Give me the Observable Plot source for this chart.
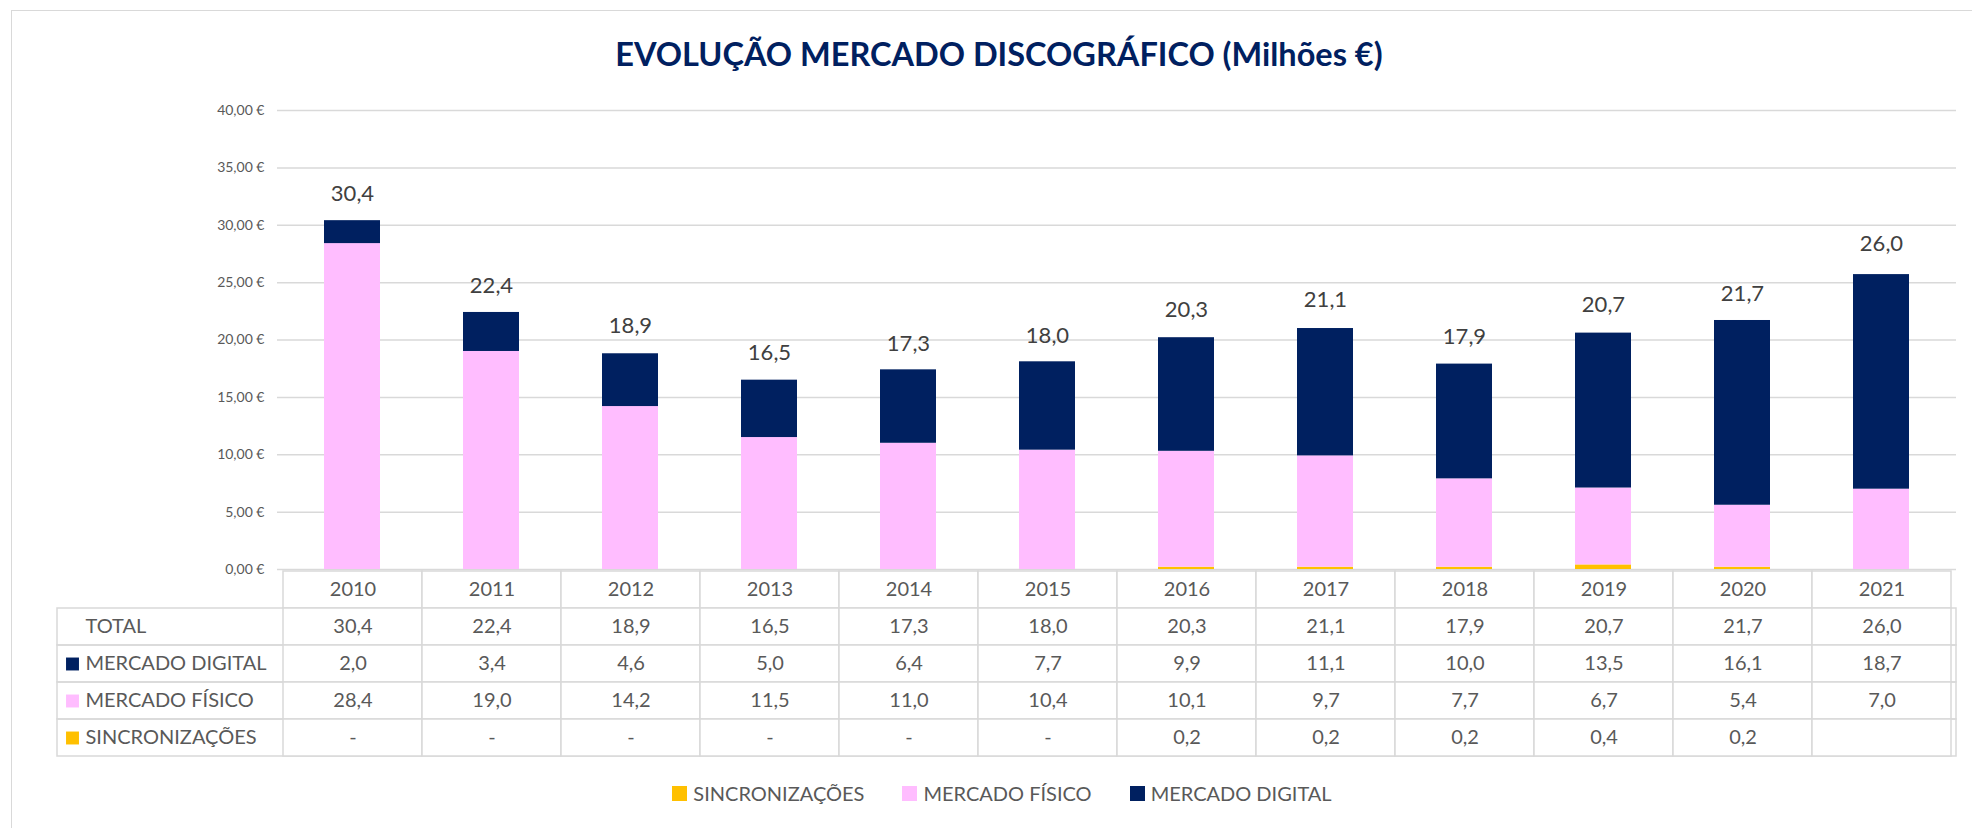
<!DOCTYPE html>
<html>
<head>
<meta charset="utf-8">
<script src="https://cdn.jsdelivr.net/npm/d3@7"></script>
<script src="https://cdn.jsdelivr.net/npm/@observablehq/plot@0.6"></script>
<style>
  html, body { margin: 0; padding: 0; background: #fff; }
  #root { position: relative; width: 1972px; height: 828px; overflow: hidden; background: #fff; font-family: Lato, "Open Sans", sans-serif; }
  #frame { position: absolute; left: 11px; top: 10px; width: 1990px; height: 840px; border: 1.5px solid #d9d9d9; box-sizing: border-box; }
  #title { position: absolute; left: 0; top: 36px; width: 1998px; text-align: center; font-size: 32.5px; line-height: 36px; font-weight: 700; color: #002060; white-space: nowrap; }
  #chart, #table { position: absolute; left: 0; }
  #chart { top: 90px; }
  #table { top: 559px; }
  #legend { position: absolute; left: 0; top: 780px; width: 2004px; display: flex; justify-content: center; gap: 38px; font-size: 20px; color: #595959; line-height: 26px; }
  .item { display: flex; align-items: center; gap: 6px; }
  .sw { width: 15px; height: 15px; display: inline-block; }
  svg text { font-family: Lato, "Open Sans", sans-serif; }
</style>
</head>
<body>
<div id="root">
  <div id="frame"></div>
  <div id="title">EVOLUÇÃO MERCADO DISCOGRÁFICO (Milhões €)</div>
  <div id="chart"></div>
  <div id="table"></div>
  <div id="legend"></div>
</div>
<script>
// ---- Data ----
const years = ["2010","2011","2012","2013","2014","2015","2016","2017","2018","2019","2020","2021"];
const totals = [30.4, 22.4, 18.9, 16.5, 17.3, 18.0, 20.3, 21.1, 17.9, 20.7, 21.7, 26.0];
const digital = [2.0, 3.4, 4.6, 5.0, 6.4, 7.7, 9.9, 11.1, 10.0, 13.5, 16.1, 18.7];
const fisico = [28.4, 19.0, 14.2, 11.5, 11.0, 10.4, 10.1, 9.7, 7.7, 6.7, 5.4, 7.0];
const sincro = [0, 0, 0, 0, 0, 0, 0.2, 0.2, 0.2, 0.4, 0.2, null];
const seriesNames = ["SINCRONIZAÇÕES", "MERCADO FÍSICO", "MERCADO DIGITAL"];
const seriesColors = ["#FFC000", "#FFBDFF", "#002060"];
const tableRows = ["TOTAL", "MERCADO DIGITAL", "MERCADO FÍSICO", "SINCRONIZAÇÕES"];
const yTicks = [0, 5, 10, 15, 20, 25, 30, 35, 40];

const seriesValues = {"SINCRONIZAÇÕES": sincro, "MERCADO FÍSICO": fisico, "MERCADO DIGITAL": digital};
const colorOf = Object.fromEntries(seriesNames.map((s, i) => [s, seriesColors[i]]));

// long data for stacked bars (bottom to top: sincro, físico, digital)
const stacked = [];
years.forEach((yr, i) => {
  seriesNames.forEach(s => {
    const v = seriesValues[s][i];
    if (v) stacked.push({year: yr, series: s, value: v});
  });
});
const totalData = years.map((yr, i) => ({year: yr, total: totals[i]}));

const fmt1 = v => v.toFixed(1).replace(".", ",");
const fmtAxis = v => v.toFixed(2).replace(".", ",") + " €";

const font = "Lato, 'Open Sans', sans-serif";

// ---- Chart ----
const chart = Plot.plot({
  width: 1972,
  height: 485,
  marginTop: 20,
  marginBottom: 6,
  marginLeft: 277,
  marginRight: 16,
  style: {fontFamily: font, background: "transparent", overflow: "visible"},
  x: {type: "band", domain: years, paddingInner: 0.6, paddingOuter: 0.3, axis: null},
  y: {domain: [0, 40], axis: null},
  color: {domain: seriesNames, range: seriesColors},
  marks: [
    Plot.gridY(yTicks, {stroke: "#d9d9d9", strokeOpacity: 1, strokeWidth: 1.5}),
    Plot.axisY(yTicks, {tickSize: 0, tickPadding: 13, tickFormat: fmtAxis, fontSize: 14, fill: "#595959", label: null}),
    Plot.barY(stacked, {x: "year", y: "value", fill: "series"}),
    Plot.text(totalData, {x: "year", y: "total", text: d => fmt1(d.total), dy: -27, fontSize: 22, fill: "#404040"})
  ]
});
document.getElementById("chart").appendChild(chart);

// ---- Data table ----
const rowKeys = ["ANO", ...tableRows];
const rowValues = {
  "TOTAL": totals.map(fmt1),
  "MERCADO DIGITAL": digital.map(fmt1),
  "MERCADO FÍSICO": fisico.map(fmt1),
  "SINCRONIZAÇÕES": sincro.map(v => v == null ? "" : v === 0 ? "-" : fmt1(v))
};
const cells = [];
years.forEach((yr, i) => {
  cells.push({year: yr, row: "ANO", text: yr});
  tableRows.forEach(r => cells.push({year: yr, row: r, text: rowValues[r][i]}));
});
const swatchRows = tableRows.filter(r => colorOf[r]);

const table = Plot.plot({
  width: 1972,
  height: 210,
  marginTop: 10,
  marginBottom: 11,
  marginLeft: 57,
  marginRight: 16,
  style: {fontFamily: font, background: "transparent", overflow: "visible"},
  x: {type: "band", domain: years, range: [277, 1956], padding: 0, axis: null},
  y: {type: "band", domain: rowKeys, padding: 0, axis: null},
  marks: [
    Plot.cell(tableRows, {y: d => d, fill: "none", stroke: "#d9d9d9", strokeWidth: 1.5}),
    Plot.cell(cells, {x: "year", y: "row", fill: "white", stroke: "#d9d9d9", strokeWidth: 1.5}),
    Plot.text(cells, {x: "year", y: "row", text: "text", fontSize: 20, fill: "#595959"}),
    Plot.text(tableRows, {y: d => d, text: d => d, frameAnchor: "left", textAnchor: "start", dx: 28, fontSize: 20, fill: "#595959"}),
    Plot.dot(swatchRows, {y: d => d, frameAnchor: "left", dx: 15, symbol: "square", r: 7.3, fill: d => colorOf[d], stroke: "none"})
  ]
});
document.getElementById("table").appendChild(table);

// ---- Legend ----
const legend = document.getElementById("legend");
seriesNames.forEach((s, i) => {
  const item = document.createElement("div");
  item.className = "item";
  const sw = document.createElement("span");
  sw.className = "sw";
  sw.style.background = seriesColors[i];
  const lab = document.createElement("span");
  lab.textContent = s;
  item.appendChild(sw);
  item.appendChild(lab);
  legend.appendChild(item);
});
</script>
</body>
</html>
